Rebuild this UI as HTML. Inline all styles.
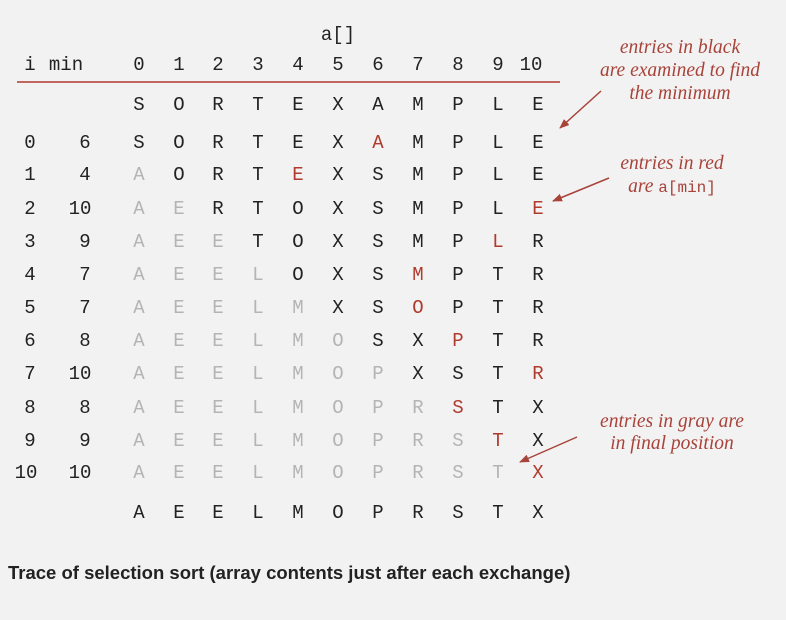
<!DOCTYPE html>
<html><head><meta charset="utf-8"><style>
html,body{margin:0;padding:0;background:#f2f2f2;}
svg{display:block}
.m{font-family:"Liberation Mono",monospace;font-size:19px;fill:#222;}
.g{fill:#b4b4b4}
.r{fill:#b03a2e}
.n{font-family:"Liberation Serif",serif;font-style:italic;font-size:19.5px;fill:#a8433a;}
.cap{font-family:"Liberation Sans",sans-serif;font-weight:bold;font-size:18.5px;fill:#222;}
</style></head><body>
<svg width="786" height="620" viewBox="0 0 786 620" xmlns="http://www.w3.org/2000/svg">
<defs><marker id="ah" markerWidth="10" markerHeight="8" refX="9" refY="4" orient="auto" markerUnits="userSpaceOnUse"><path d="M0,0 L10,4 L0,8 z" fill="#a8433a"/></marker></defs>
<g class="m" text-anchor="middle">
<text x="338" y="40">a[]</text>
<text x="30" y="70">i</text><text x="66" y="70">min</text>
<text x="139 179 218 258 298 338 378 418 458 498" y="70">0123456789</text><text x="531" y="70">10</text>
<line x1="17" y1="82" x2="560" y2="82" stroke="#b03a2e" stroke-width="1.5"/>
<text x="139 179 218 258 298 338 378 418 458 498 538" y="110">SORTEXAMPLE</text>
<text y="148"><tspan x="30">0</tspan><tspan x="85">6</tspan><tspan x="139 179 218 258 298 338">SORTEX</tspan><tspan class="r" x="378">A</tspan><tspan x="418 458 498 538">MPLE</tspan></text>
<text y="180"><tspan x="30">1</tspan><tspan x="85">4</tspan><tspan class="g" x="139">A</tspan><tspan x="179 218 258">ORT</tspan><tspan class="r" x="298">E</tspan><tspan x="338 378 418 458 498 538">XSMPLE</tspan></text>
<text y="214"><tspan x="30">2</tspan><tspan x="80">10</tspan><tspan class="g" x="139 179">AE</tspan><tspan x="218 258 298 338 378 418 458 498">RTOXSMPL</tspan><tspan class="r" x="538">E</tspan></text>
<text y="247"><tspan x="30">3</tspan><tspan x="85">9</tspan><tspan class="g" x="139 179 218">AEE</tspan><tspan x="258 298 338 378 418 458">TOXSMP</tspan><tspan class="r" x="498">L</tspan><tspan x="538">R</tspan></text>
<text y="280"><tspan x="30">4</tspan><tspan x="85">7</tspan><tspan class="g" x="139 179 218 258">AEEL</tspan><tspan x="298 338 378">OXS</tspan><tspan class="r" x="418">M</tspan><tspan x="458 498 538">PTR</tspan></text>
<text y="313"><tspan x="30">5</tspan><tspan x="85">7</tspan><tspan class="g" x="139 179 218 258 298">AEELM</tspan><tspan x="338 378">XS</tspan><tspan class="r" x="418">O</tspan><tspan x="458 498 538">PTR</tspan></text>
<text y="346"><tspan x="30">6</tspan><tspan x="85">8</tspan><tspan class="g" x="139 179 218 258 298 338">AEELMO</tspan><tspan x="378 418">SX</tspan><tspan class="r" x="458">P</tspan><tspan x="498 538">TR</tspan></text>
<text y="379"><tspan x="30">7</tspan><tspan x="80">10</tspan><tspan class="g" x="139 179 218 258 298 338 378">AEELMOP</tspan><tspan x="418 458 498">XST</tspan><tspan class="r" x="538">R</tspan></text>
<text y="413"><tspan x="30">8</tspan><tspan x="85">8</tspan><tspan class="g" x="139 179 218 258 298 338 378 418">AEELMOPR</tspan><tspan class="r" x="458">S</tspan><tspan x="498 538">TX</tspan></text>
<text y="446"><tspan x="30">9</tspan><tspan x="85">9</tspan><tspan class="g" x="139 179 218 258 298 338 378 418 458">AEELMOPRS</tspan><tspan class="r" x="498">T</tspan><tspan x="538">X</tspan></text>
<text y="478"><tspan x="26">10</tspan><tspan x="80">10</tspan><tspan class="g" x="139 179 218 258 298 338 378 418 458 498">AEELMOPRST</tspan><tspan class="r" x="538">X</tspan></text>
<text x="139 179 218 258 298 338 378 418 458 498 538" y="518">AEELMOPRSTX</text>
</g>
<g class="n" text-anchor="middle">
<text x="680" y="53">entries in black</text>
<text x="680" y="76">are examined to find</text>
<text x="680" y="99">the minimum</text>
<text x="672" y="169">entries in red</text>
<text x="672" y="192">are <tspan style="font-family:'Liberation Mono',monospace;font-style:normal;font-size:16px">a[min]</tspan></text>
<text x="672" y="427">entries in gray are</text>
<text x="672" y="449">in final position</text>
</g>
<g stroke="#a8433a" stroke-width="1.5" fill="none">
<line x1="601" y1="91" x2="560" y2="128" marker-end="url(#ah)"/>
<line x1="609" y1="178" x2="553" y2="201" marker-end="url(#ah)"/>
<line x1="577" y1="437" x2="520" y2="462" marker-end="url(#ah)"/>
</g>
<text class="cap" x="8" y="579">Trace of selection sort (array contents just after each exchange)</text>
</svg>
</body></html>
